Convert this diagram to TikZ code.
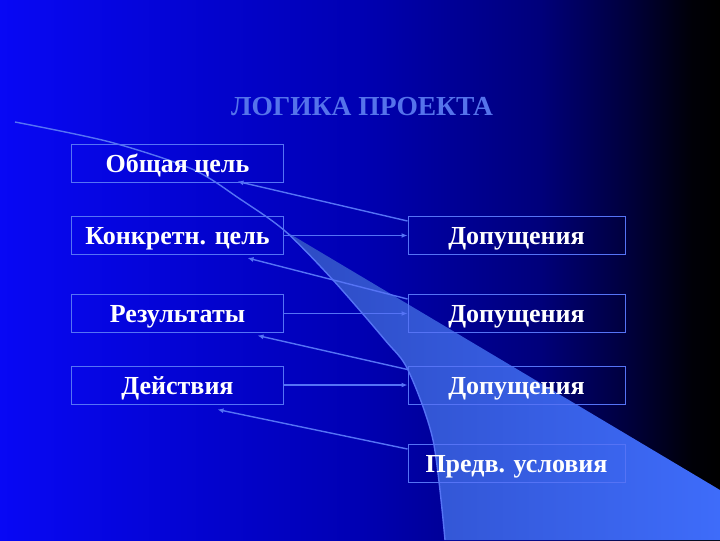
\documentclass[tikz,border=0pt]{standalone}
\usepackage{fontspec}
\setmainfont{Liberation Serif}
\usetikzlibrary{arrows.meta}
\definecolor{lineblue}{RGB}{85,115,245}
\definecolor{titleblue}{RGB}{85,115,235}
\pgfdeclarehorizontalshading{slidebg}{100bp}{rgb(0bp)=(0.03,0.03,0.96); rgb(25bp)=(0.03,0.03,0.96); rgb(50bp)=(0,0,0.70); rgb(62.5bp)=(0,0,0.48); rgb(69bp)=(0,0,0.22); rgb(73bp)=(0,0,0.03); rgb(75bp)=(0,0,0); rgb(100bp)=(0,0,0)}

\begin{document}
\begin{tikzpicture}
	[x=1bp,y=-1bp,
	every node/.style={draw=lineblue,line width=1bp,text=white,font=\bfseries\fontsize{26bp}{30bp}\selectfont,minimum width=211bp,minimum height=38bp,inner sep=0pt,text height=24bp,text depth=6bp},
	wide/.style={minimum width=217bp},
	arr/.style={draw=lineblue,line width=1.4bp,-{Latex[length=6bp,width=5bp]}}]
	\shade[shading=slidebg] (0,0) rectangle (720,540);
	\shade[left color={rgb,255:red,45;green,75;blue,195},right color={rgb,255:red,62;green,108;blue,250}]
		plot[smooth] coordinates {(285,231) (333,280) (385,340) (408,370) (433,440) (445,540)} -- (720,540) -- (720,490) -- cycle;
	\draw[lineblue,line width=1.4bp] plot[smooth] coordinates {(15,122) (110,142) (192,169) (240,199) (285,231) (333,280) (385,340) (408,370) (433,440) (445,540)};
	\node (title) [draw=none,text=titleblue,font=\bfseries\fontsize{27.5bp}{32bp}\selectfont] at (362,107) {ЛОГИКА ПРОЕКТА};
	\node (goal) at (177.5,164) {Общая цель};
	\node (purpose) at (177.5,235.5) {Конкретн. цель};
	\node (results) at (177.5,313.5) {Результаты};
	\node (actions) at (177.5,385) {Действия};
	\node (ass1) [wide] at (516.5,235.5) {Допущения};
	\node (ass2) [wide] at (516.5,313.5) {Допущения};
	\node (ass3) [wide] at (516.5,385) {Допущения};
	\node (pre) [wide] at (516.5,463.5) {Предв. условия};
	\draw[arr] (purpose) -- (ass1);
	\draw[arr] (results) -- (ass2);
	\draw[arr] (actions) -- (ass3);
	\draw[arr] ([yshift=-5bp]ass1.north west) -- ([xshift=60bp,yshift=2bp]goal.south);
	\draw[arr] ([yshift=-5bp]ass2.north west) -- ([xshift=70bp,yshift=-3bp]purpose.south);
	\draw[arr] ([yshift=-4bp]ass3.north west) -- ([xshift=80bp,yshift=-2.5bp]results.south);
	\draw[arr] ([yshift=-5bp]pre.north west) -- ([xshift=40bp,yshift=-5bp]actions.south);
\end{tikzpicture}
\end{document}
